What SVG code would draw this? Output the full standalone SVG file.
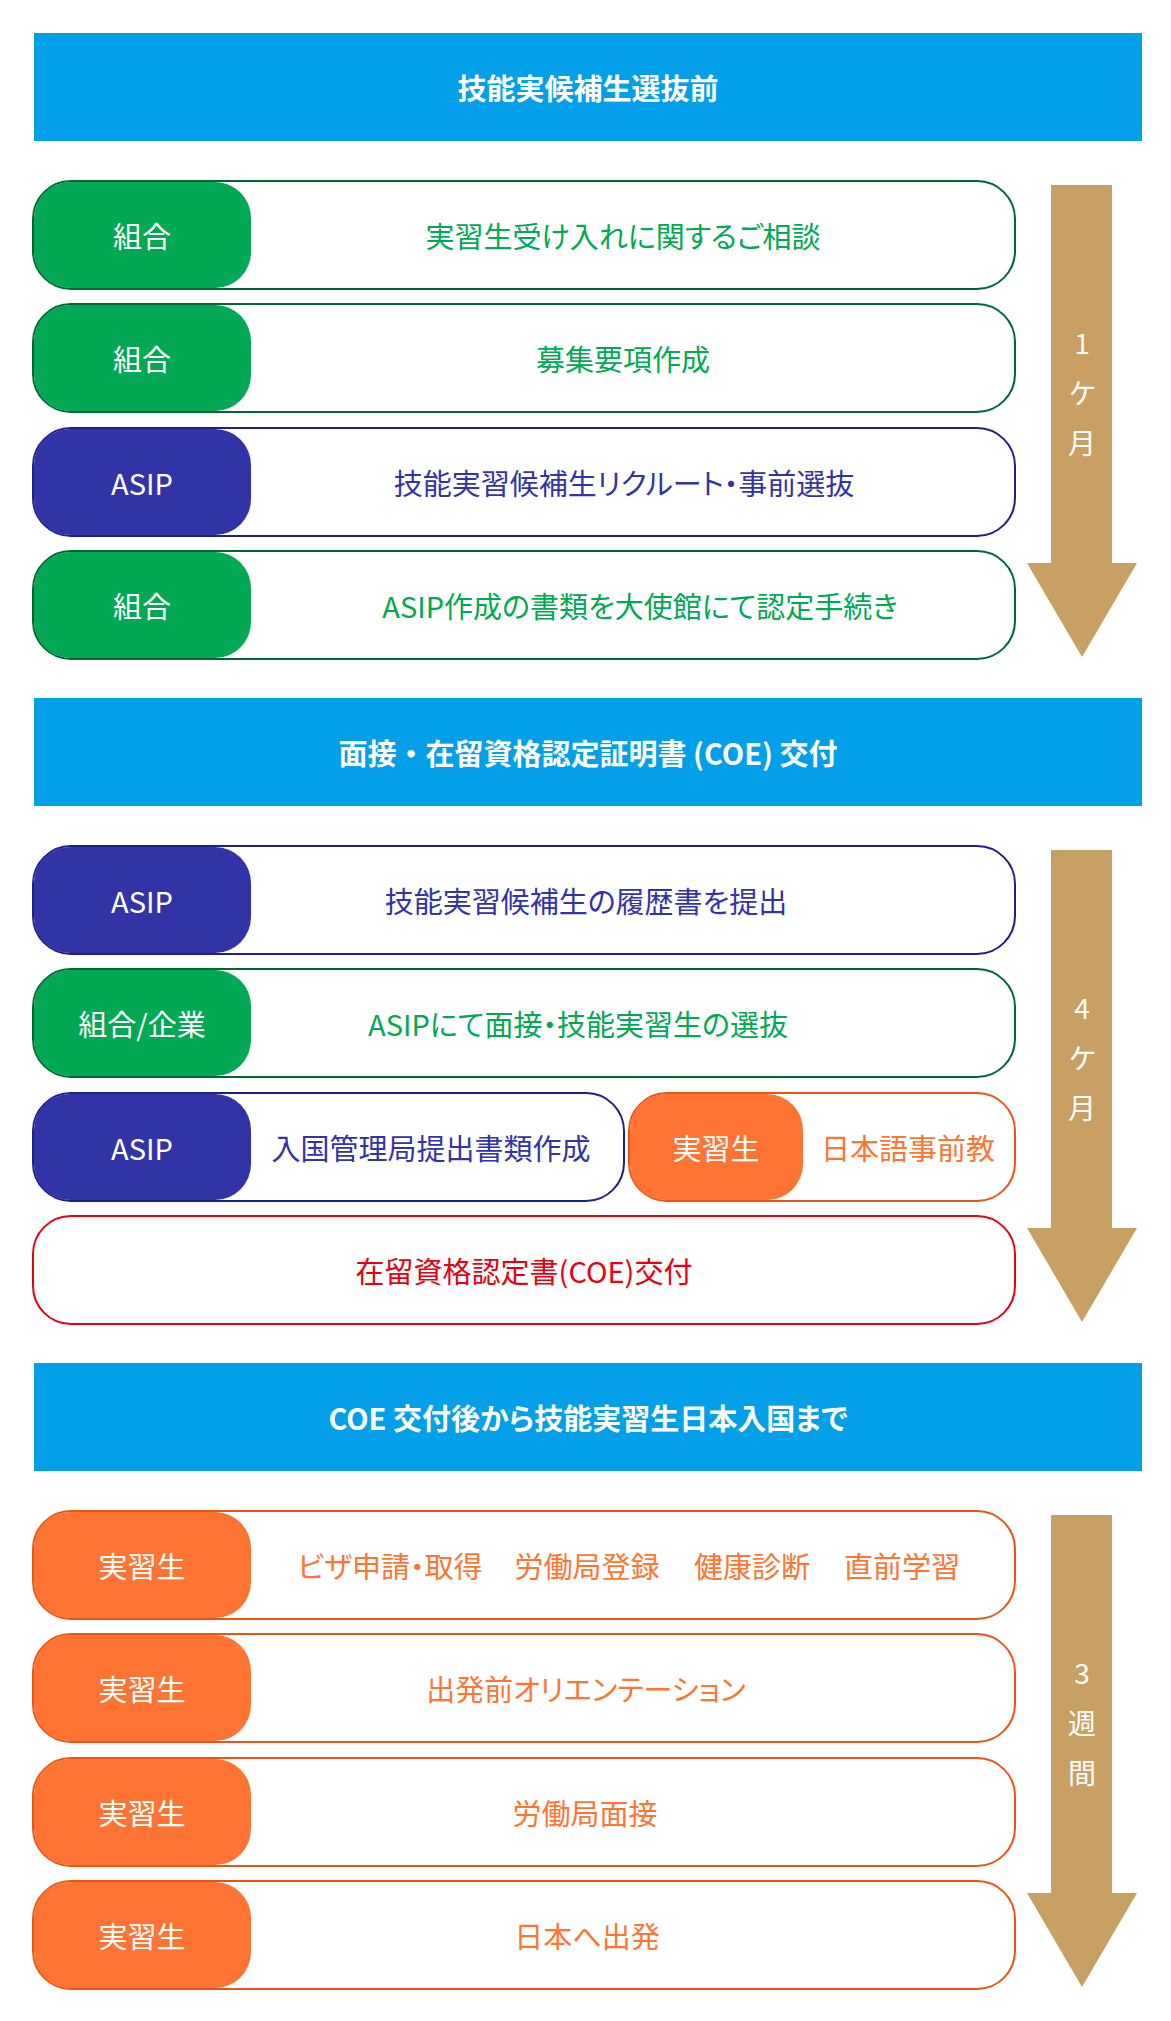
<svg xmlns="http://www.w3.org/2000/svg" width="1171" height="2021" viewBox="0 0 1171 2021">
<defs>
<style>
text{font-family:"Noto Sans CJK JP","Noto Sans",sans-serif;font-size:29px;dominant-baseline:central;font-feature-settings:"palt"}
.banner rect{fill:#03A0E9}
.banner text{fill:#fff;font-weight:bold;text-anchor:middle}
.fw{font-feature-settings:normal}
.box{fill:#fff;stroke-width:2}
.g .box{stroke:#006633}.g .pill{fill:#02A853}.g .t{fill:#02A853}
.n .box{stroke:#1D2088}.n .pill{fill:#3333A8}.n .t{fill:#3333A8}
.o .box{stroke:#EA5514}.o .pill{fill:#FF7433}.o .t{fill:#FF7433}
.r .box{stroke:#E60012}.r .t{fill:#E60012}
.pt{fill:#fff;text-anchor:middle}
.t{text-anchor:middle}
.arrow{fill:#C8A063}
.at{fill:#fff;text-anchor:middle;font-size:28px}
</style>
</defs>
<rect width="1171" height="2021" fill="#fff"/>

<!-- Section 1 -->
<g id="banner1" class="banner"><rect x="34" y="33" width="1108" height="108"/><text x="588" y="87">技能実候補生選抜前</text></g>
<g id="s1r1" class="g"><rect class="box" x="33" y="181" width="982" height="108" rx="38"/><rect class="pill" x="34" y="182" width="217" height="106" rx="36"/><text class="pt" x="142" y="235">組合</text><text class="t" x="623" y="235">実習生受け入れに関するご相談</text></g>
<g id="s1r2" class="g"><rect class="box" x="33" y="304" width="982" height="108" rx="38"/><rect class="pill" x="34" y="305" width="217" height="106" rx="36"/><text class="pt" x="142" y="358">組合</text><text class="t" x="623" y="358">募集要項作成</text></g>
<g id="s1r3" class="n"><rect class="box" x="33" y="428" width="982" height="108" rx="38"/><rect class="pill" x="34" y="429" width="217" height="106" rx="36"/><text class="pt" x="142" y="482">ASIP</text><text class="t" x="624" y="482">技能実習候補生リクルート・事前選抜</text></g>
<g id="s1r4" class="g"><rect class="box" x="33" y="551" width="982" height="108" rx="38"/><rect class="pill" x="34" y="552" width="217" height="106" rx="36"/><text class="pt" x="142" y="605">組合</text><text class="t" x="640" y="605">ASIP作成の書類を大使館にて認定手続き</text></g>

<!-- Section 2 -->
<g id="banner2" class="banner"><rect x="34" y="698" width="1108" height="108"/><text class="fw" x="588" y="752">面接・在留資格認定証明書 (COE) 交付</text></g>
<g id="s2r1" class="n"><rect class="box" x="33" y="846" width="982" height="108" rx="38"/><rect class="pill" x="34" y="847" width="217" height="106" rx="36"/><text class="pt" x="142" y="900">ASIP</text><text class="t" x="586" y="900">技能実習候補生の履歴書を提出</text></g>
<g id="s2r2" class="g"><rect class="box" x="33" y="969" width="982" height="108" rx="38"/><rect class="pill" x="34" y="970" width="217" height="106" rx="36"/><text class="pt" x="142" y="1023">組合/企業</text><text class="t" x="578" y="1023">ASIPにて面接・技能実習生の選抜</text></g>
<g id="s2r3a" class="n"><rect class="box" x="33" y="1093" width="591" height="108" rx="38"/><rect class="pill" x="34" y="1094" width="217" height="106" rx="36"/><text class="pt" x="142" y="1147">ASIP</text><text class="t" x="431" y="1147">入国管理局提出書類作成</text></g>
<g id="s2r3b" class="o"><rect class="box" x="629" y="1093" width="386" height="108" rx="38"/><rect class="pill" x="630" y="1094" width="173" height="106" rx="36"/><text class="pt" x="716" y="1147">実習生</text><text class="t" x="908" y="1147">日本語事前教</text></g>
<g id="s2r4" class="r"><rect class="box" x="33" y="1216" width="982" height="108" rx="38"/><text class="t" x="524" y="1270">在留資格認定書(COE)交付</text></g>

<!-- Section 3 -->
<g id="banner3" class="banner"><rect x="34" y="1363" width="1108" height="108"/><text x="588" y="1417">COE 交付後から技能実習生日本入国まで</text></g>
<g id="s3r1" class="o"><rect class="box" x="33" y="1511" width="982" height="108" rx="38"/><rect class="pill" x="34" y="1512" width="217" height="106" rx="36"/><text class="pt" x="142" y="1565">実習生</text><text class="t" y="1565"><tspan x="390">ビザ申請・取得</tspan><tspan x="587">労働局登録</tspan><tspan x="752">健康診断</tspan><tspan x="902">直前学習</tspan></text></g>
<g id="s3r2" class="o"><rect class="box" x="33" y="1634" width="982" height="108" rx="38"/><rect class="pill" x="34" y="1635" width="217" height="106" rx="36"/><text class="pt" x="142" y="1688">実習生</text><text class="t" x="586" y="1688">出発前オリエンテーション</text></g>
<g id="s3r3" class="o"><rect class="box" x="33" y="1758" width="982" height="108" rx="38"/><rect class="pill" x="34" y="1759" width="217" height="106" rx="36"/><text class="pt" x="142" y="1812">実習生</text><text class="t" x="585" y="1812">労働局面接</text></g>
<g id="s3r4" class="o"><rect class="box" x="33" y="1881" width="982" height="108" rx="38"/><rect class="pill" x="34" y="1882" width="217" height="106" rx="36"/><text class="pt" x="142" y="1935">実習生</text><text class="t" x="587" y="1935">日本へ出発</text></g>

<!-- Timeline arrows -->
<g id="connectors">
<g id="arrow1"><polygon class="arrow" points="1051,185 1112,185 1112,563 1137,563 1082,657 1027,563 1051,563"/><text class="at" x="1082" y="342">1</text><text class="at" x="1082" y="392">ケ</text><text class="at" x="1082" y="442">月</text></g>
<g id="arrow2"><polygon class="arrow" points="1051,850 1112,850 1112,1228 1137,1228 1082,1322 1027,1228 1051,1228"/><text class="at" x="1082" y="1007">4</text><text class="at" x="1082" y="1057">ケ</text><text class="at" x="1082" y="1107">月</text></g>
<g id="arrow3"><polygon class="arrow" points="1051,1515 1112,1515 1112,1893 1137,1893 1082,1987 1027,1893 1051,1893"/><text class="at" x="1082" y="1672">3</text><text class="at" x="1082" y="1722">週</text><text class="at" x="1082" y="1772">間</text></g>
</g>
</svg>
